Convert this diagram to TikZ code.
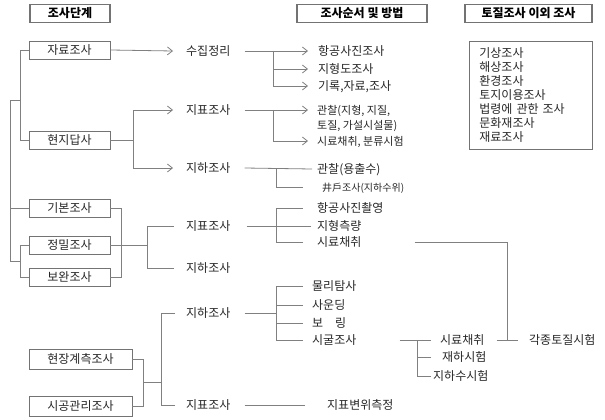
\documentclass[tikz,border=0pt]{standalone}
\usepackage{fontspec}
\setmainfont{Noto Sans CJK KR}
\usetikzlibrary{arrows.meta,calc}
\begin{document}
\begin{tikzpicture}[x=1pt,y=-1pt,
  ln/.style={draw=black!50, line width=0.8pt},
  arr/.style={ln, -{Straight Barb[length=5pt,width=8pt]}},
  txt/.style={anchor=west, inner sep=0pt, text height=10pt, text depth=1pt, font=\fontsize{12}{14}\selectfont, text=black!85},
  small/.style={txt, font=\fontsize{11}{14}\selectfont},
  tiny/.style={txt, font=\fontsize{10}{12}\selectfont},
  stage/.style={draw=black!55, line width=0.8pt, minimum width=81pt, minimum height=18pt, inner sep=0pt, text height=10pt, text depth=1pt, font=\fontsize{12}{14}\selectfont, text=black!85},
  head/.style={draw=black!55, line width=1.5pt, minimum height=18pt, inner sep=0pt, text height=10pt, text depth=1pt, font=\fontsize{12}{14}\selectfont\bfseries, text=black}
]
\useasboundingbox (0,0) rectangle (605,420);

% headers
\node[head, minimum width=80pt] (h1) at (70,13.5) {조사단계};
\node[head, minimum width=130pt] (h2) at (362,13.5) {조사순서 및 방법};
\node[head, minimum width=127pt] (h3) at (528.5,13.5) {토질조사 이외 조사};

% right box
\node[draw=black!55, line width=0.8pt, anchor=north west, minimum width=123pt, minimum height=108pt, inner xsep=10pt, inner ysep=0pt, text width=103pt, align=left, font=\fontsize{12}{14}\selectfont, text=black!85] (rb) at (469,41)
  {기상조사\\해상조사\\환경조사\\토지이용조사\\법령에 관한 조사\\문화재조사\\재료조사};

% stage boxes
\node[stage] (s1) at (69.5,50) {자료조사};
\node[stage] (s2) at (69.5,140) {현지답사};
\node[stage] (s3) at (69.5,208) {기본조사};
\node[stage] (s4) at (69.5,245) {정밀조사};
\node[stage] (s5) at (69.5,277) {보완조사};
\node[stage, minimum width=103pt, minimum height=20pt] (s6) at (80.5,359) {현장계측조사};
\node[stage, minimum width=103pt, minimum height=20pt] (s7) at (80.5,406) {시공관리조사};

% second column
\node[txt] (t1) at (186,51) {수집정리};
\node[txt] (t2) at (186,110) {지표조사};
\node[txt] (t3) at (186,168) {지하조사};
\node[txt] (t4) at (186,226) {지표조사};
\node[txt] (t5) at (186,268) {지하조사};
\node[txt] (t6) at (186,313) {지하조사};
\node[txt] (t7) at (186,405) {지표조사};

% third column
\node[txt] (a1) at (318,51) {항공사진조사};
\node[txt] (a2) at (318,69) {지형도조사};
\node[txt] (a3) at (318,86) {기록,자료,조사};
\node[small] (b1) at (317,110) {관찰(지형, 지질,};
\node[small] (b1x) at (317,125) {토질, 가설시설물)};
\node[small] (b2) at (317,141) {시료채취, 분류시험};
\node[txt] (c1) at (317,169) {관찰(용출수)};
\node[tiny] (c2) at (322,187) {井戶조사(지하수위)};
\node[txt] (d1) at (317,208) {항공사진촬영};
\node[txt] (d2) at (317,226) {지형측량};
\node[txt] (d3) at (317,242) {시료채취};
\node[txt] (g1) at (312,286) {물리탐사};
\node[txt] (g2) at (312,305) {사운딩};
\node[txt] (g3) at (312,323) {보\hspace{12pt}링};
\node[txt] (g4) at (312,340) {시굴조사};
\node[txt] (h1b) at (327,405) {지표변위측정};

% fourth column
\node[txt] (e1) at (440,340) {시료채취};
\node[txt] (e2) at (442,357) {재하시험};
\node[txt] (e3) at (433,376) {지하수시험};
\node[txt] (f1) at (529,340) {각종토질시험};

% junctions
\coordinate (L1) at (21,100);
\coordinate (L0) at (10,100);
\coordinate (j1) at (273,51);
\coordinate (j2) at (133,140);
\coordinate (j3) at (273,110);
\coordinate (j4) at (276,169);
\coordinate (j5) at (147,245);
\coordinate (j6) at (276,226);
\coordinate (j7) at (507,340);
\coordinate (j9) at (276,313);
\coordinate (j10) at (417,340);

% left tree
\draw[ln] (s1.west) -- ++(-8,0) |- (s2.west);
\draw[ln] (s4.west) -- ++(-8,0) |- (s5.west);
\draw[ln] (L1) -- (L0) |- ($(s4.west)!0.5!(s5.west)+(-8,0)$);
\draw[ln] (L0 |- s3.west) -- (s3.west);

% stage -> second column
\draw[arr] (s1.east) -- ([xshift=-13pt]t1.west);
\draw[ln] (s2.east) -- (j2);
\draw[arr] (j2) |- ([xshift=-13pt]t2.west);
\draw[arr] (j2) |- ([xshift=-13pt]t3.west);
\draw[ln] (s3.east) -- ++(11,0) |- (s5.east);
\draw[ln] (s4.east) -- (j5);
\draw[ln] (j5) |- ([xshift=-12pt]t4.west);
\draw[ln] (j5) |- ([xshift=-12pt]t5.west);
\draw[ln] (s6.east) -- ++(11,0) |- (s7.east);
\coordinate (m1) at ($(s6.east)!0.5!(s7.east)+(11,0)$);
\coordinate (j8) at ($(m1)+(18,0)$);
\draw[ln] (m1) -- (j8);
\draw[ln] (j8) |- ([xshift=-11pt]t6.west);
\draw[ln] (j8) |- ([xshift=-11pt]t7.west);

% second -> third column
\draw[arr] ([xshift=14pt]t1.east) -- ([xshift=-10pt]a1.west);
\draw[arr] (j1) |- ([xshift=-10pt]a2.west);
\draw[arr] (j1) |- ([xshift=-10pt]a3.west);
\draw[arr] ([xshift=14pt]t2.east) -- ([xshift=-9pt]b1.west);
\draw[arr] (j3) |- ([xshift=-9pt]b2.west);
\draw[ln] ([xshift=14pt]t3.east) -- ([xshift=-5pt]c1.west);
\draw[ln] (j4) |- ([xshift=-19pt]c2.west);
\draw[ln] ([xshift=16pt]t4.east) -- ([xshift=-6pt]d2.west);
\draw[ln] (j6) |- ([xshift=-14pt]d1.west);
\draw[ln] (j6) |- ([xshift=-14pt]d3.west);
\draw[ln] ([xshift=14pt]t6.east) -- (j9);
\draw[ln] (j9) |- ([xshift=-9pt]g1.west);
\draw[ln] (j9) |- ([xshift=-9pt]g4.west);
\draw[ln] (j9 |- g2.west) -- ([xshift=-9pt]g2.west);
\draw[ln] (j9 |- g3.west) -- ([xshift=-9pt]g3.west);
\draw[ln] ([xshift=14pt]t7.east) -- ([xshift=-22pt]h1b.west);

% third -> fourth column
\draw[ln] ([xshift=43pt]g4.east) -- ([xshift=-9pt]e1.west);
\draw[ln] (j10) |- ([xshift=-11pt]e2.west);
\draw[ln] (j10) |- ([xshift=-2pt]e3.west);
\draw[ln] ([xshift=53pt]d3.east) -| (j7);
\draw[ln] ([xshift=12pt]e1.east) -- ([xshift=-11pt]f1.west);
\end{tikzpicture}
\end{document}
